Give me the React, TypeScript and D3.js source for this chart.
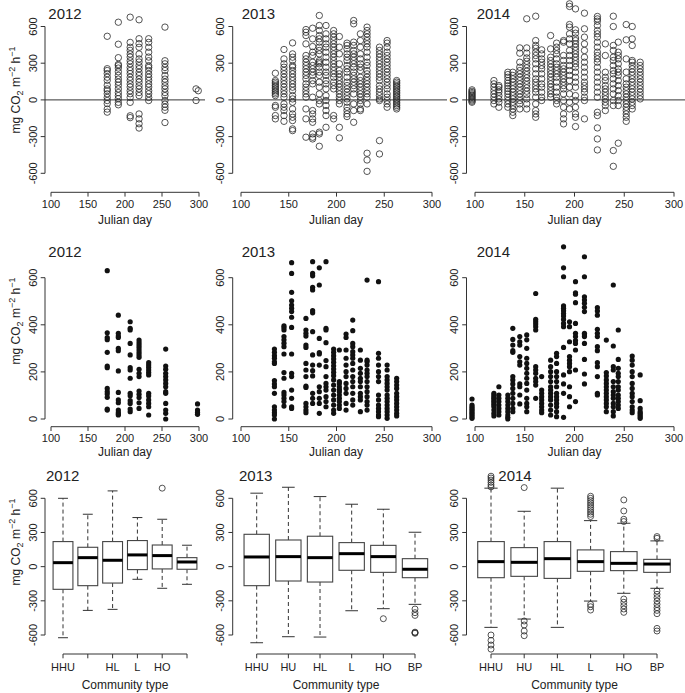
import React from "react";
import * as d3 from "d3";

// ---------- Data ----------
const years = ["2012", "2013", "2014"];
const dayTicks = [100, 150, 200, 250, 300];
const netTicks = [-600, -300, 0, 300, 600];
const respTicks = [0, 200, 400, 600];
const communities = ["HHU", "HU", "HL", "L", "HO", "BP"];
const communityLabels2012 = ["HHU", "", "HL", "L", "HO", ""];
const communityLabelsAll = ["HHU", "HU", "HL", "L", "HO", "BP"];

// Row 1: net CO2 exchange per sampling day
const netDays2012 = [176, 191, 207, 219, 232, 254, 296, 299];
const netVals2012 = [
  [520, 255, 240, 215, 185, 160, 120, 90, 75, 50, 20, -5, -30, -75, -100],
  [635, 455, 345, 290, 280, 260, 230, 200, 170, 145, 120, 90, 60, 35, 10, -20, -40],
  [676, 470, 430, 405, 375, 350, 320, 295, 265, 240, 215, 185, 160, 130, 105, 75, 50, 20, -20, -130, -145],
  [655, 500, 460, 430, 375, 335, 310, 280, 255, 225, 200, 170, 145, 115, 90, 60, 35, -115, -155, -195, -230],
  [500, 470, 430, 390, 350, 320, 280, 265, 240, 210, 185, 160, 130, 105, 75, 50, 20, -5],
  [595, 320, 295, 265, 240, 200, 170, 145, 115, 90, 60, 35, -5, -35, -60, -85, -185],
  [90, -5],
  [75],
];

const netDays2013 = [136, 145, 154, 168, 175, 182, 189, 197, 203, 211, 218, 225, 232, 245, 253, 263];
const netVals2013 = [
  [218, 158, 145, 131, 117, 104, 90, 76, 63, 49, 35, -46, -60, -128, -155],
  [412, 335, 295, 267, 240, 213, 185, 158, 131, 104, 76, 49, 22, -33, -60, -87, -128, -175],
  [466, 376, 349, 322, 281, 267, 240, 213, 185, 158, 131, 104, 76, 35, 8, -19, -74, -115, -142, -169, -237, -251],
  [575, 553, 526, 458, 363, 335, 308, 281, 254, 227, 200, 172, 131, 104, 76, 49, 22, -74, -155, -305],
  [586, 499, 436, 390, 363, 308, 281, 254, 227, 200, 158, 131, 22, -87, -115, -155, -183, -278, -305, -319],
  [690, 608, 567, 526, 499, 472, 431, 404, 376, 322, 308, 295, 267, 227, 200, 145, 104, 49, -5, -33, -264, -278, -379],
  [608, 540, 499, 458, 431, 390, 349, 308, 267, 227, 200, 158, 131, 90, 35, -5, -46, -87, -128, -224],
  [567, 540, 513, 485, 458, 431, 404, 376, 349, 322, 295, 267, 240, 213, 185, 145, 117, 90, -128, -155],
  [518, 431, 376, 295, 240, 213, 185, 158, 131, 104, 76, 49, 22, -5, -33, -224, -311],
  [464, 445, 417, 376, 349, 322, 281, 254, 227, 185, 145, 117, 90, 63, 35, 8, -19, -60, -87, -115, -136],
  [649, 622, 472, 445, 404, 376, 349, 322, 295, 267, 227, 200, 172, 145, 117, 90, 49, -33, -87, -183],
  [540, 485, 431, 376, 335, 295, 267, 240, 185, 158, 131, 104, 76, 49, 22, -5, -33, -74, -87],
  [595, 567, 540, 513, 485, 458, 431, 390, 349, 308, 281, 240, 213, 185, 158, 131, 104, 76, 49, 22, -33, -436, -491, -584],
  [431, 404, 376, 349, 322, 295, 267, 240, 213, 185, 158, 117, 90, 63, 35, 8, -5, -333, -442],
  [485, 464, 431, 390, 363, 335, 308, 281, 254, 227, 200, 172, 145, 117, 90, 49, 22, -5, -33, -60],
  [158, 145, 131, 117, 104, 90, 76, 63, 49, 35, 22, 8, -5, -19, -33, -46, -60, -74],
];

const netDays2014 = [97, 119, 124, 133, 138, 145, 152, 161, 167, 176, 182, 189, 195, 201, 210, 223, 231, 239, 244, 252, 258, 266];
const netVals2014 = [
  [82, 70, 60, 50, 40, 30, 20, 10, 0, -10, -19],
  [158, 131, 104, 76, 49, 22, -5, -33],
  [117, 104, 82, 63, 35, 8, -19, -60],
  [226, 207, 185, 158, 136, 115, 93, 71, 49, 22, -5, -33, -60],
  [226, 200, 172, 145, 117, 90, 63, 35, 8, -19, -46, -74, -101, -128],
  [425, 382, 308, 267, 240, 213, 185, 158, 131, 104, 76, 49, 22, -5, -33, -74],
  [663, 425, 382, 343, 316, 289, 262, 234, 207, 180, 153, 125, 98, 71, 44, 8, -33, -74],
  [684, 485, 445, 423, 390, 363, 335, 295, 254, 213, 172, 145, 117, 90, 63, 22, -33, -87, -115, -142],
  [409, 376, 335, 308, 281, 254, 213, 172, 131, 104, 63, 22, -5],
  [526, 417, 349, 322, 295, 267, 240, 213, 185, 158, 131, 104, 76, 49, 22],
  [464, 431, 404, 376, 335, 295, 267, 240, 213, 185, 145, 104, 63, 22, -5, -33],
  [485, 472, 363, 322, 281, 254, 227, 200, 172, 145, 117, 90, 49, -5, -60, -115, -155, -196],
  [785, 764, 616, 595, 540, 499, 458, 404, 363, 322, 281, 240, 200, 158, 104, 49, -19, -74],
  [744, 573, 545, 506, 485, 458, 431, 404, 376, 349, 322, 295, 267, 227, 185, 145, 104, 35, -5, -60, -115, -142, -218],
  [709, 581, 513, 458, 404, 349, 308, 267, 227, 185, 145, 117, 90, 63, 22, -5, -155],
  [682, 662, 643, 608, 567, 540, 513, 472, 431, 390, 363, 335, 308, 267, 227, 185, 145, 104, 63, 22, -101, -128, -229, -319, -409],
  [458, 363, 226, 185, 158, 117, 90, 63, 35, 8, -19, -46, -87],
  [684, 600, 445, 404, 349, 322, 281, 240, 213, 172, 131, 90, 49, -5, -46, -414, -543],
  [472, 390, 363, 335, 295, 254, 227, 200, 158, 117, 76, 35, -5, -46, -354],
  [616, 491, 335, 227, 172, 131, 104, 76, 49, 22, -5, -33, -60, -87, -115, -142, -175],
  [600, 499, 445, 322, 308, 281, 254, 227, 200, 172, 145, 117, 90, 63, 35, 8, -19, -46, -74],
  [308, 281, 254, 227, 200, 172, 145, 117, 90, 63, 35, 8],
];

// Row 2: respiration per sampling day
const respDays2012 = [176, 191, 207, 219, 232, 255, 298];
const respVals2012 = [
  [630, 366, 346, 337, 283, 225, 218, 130, 116, 106, 92, 42, 38],
  [441, 364, 352, 346, 300, 290, 204, 113, 81, 69, 38, 28, 21, 17],
  [413, 385, 378, 321, 272, 218, 208, 173, 109, 99, 78, 66, 42, 31],
  [335, 324, 314, 304, 293, 282, 272, 262, 211, 194, 180, 119, 105, 91, 69, 45],
  [239, 229, 219, 208, 197, 187, 109, 98, 81, 66, 52, 17],
  [297, 225, 211, 194, 180, 166, 151, 137, 116, 109, 66, 38, 24, 0],
  [64, 38, 28, 20],
];

const respDays2013 = [135, 145, 153, 168, 175, 182, 189, 197, 203, 210, 217, 225, 232, 244, 253, 263];
const respVals2013 = [
  [297, 283, 269, 258, 243, 236, 163, 149, 137, 109, 52, 38, 27, 17, 0],
  [396, 388, 378, 350, 336, 322, 307, 276, 197, 173, 113, 102, 88, 74, 55],
  [664, 618, 538, 502, 484, 470, 456, 432, 389, 276, 194, 180, 123, 88, 52, 45],
  [427, 378, 364, 352, 314, 304, 236, 208, 180, 140, 134, 66, 52, 38, 27],
  [668, 618, 608, 559, 548, 460, 451, 371, 272, 229, 205, 183, 109, 88, 66],
  [642, 569, 342, 282, 276, 229, 137, 116, 88, 66, 24],
  [668, 385, 378, 324, 248, 222, 180, 151, 137, 123, 95, 74, 52],
  [297, 283, 269, 255, 241, 226, 212, 198, 184, 166, 144, 123, 102, 81, 59, 38, 24],
  [293, 159, 151, 137, 126, 116, 102, 88, 74, 59, 45],
  [361, 346, 293, 258, 229, 201, 180, 151, 130, 109, 66, 38],
  [420, 375, 321, 307, 286, 272, 258, 236, 208, 180, 159, 137, 109, 81, 59],
  [293, 250, 215, 194, 173, 159, 137, 109, 95, 81, 31],
  [590, 250, 243, 229, 208, 194, 180, 159, 137, 116, 95, 74, 59, 38],
  [583, 279, 258, 229, 201, 180, 159, 102, 81, 59, 45, 31, 17, 10],
  [229, 208, 180, 166, 151, 137, 123, 102, 88, 74, 59, 45, 31, 17, 3],
  [173, 159, 144, 130, 109, 95, 81, 66, 52, 38, 24, 13],
];

const respDays2014 = [97, 119, 124, 133, 138, 145, 152, 161, 167, 176, 182, 189, 195, 201, 210, 223, 232, 239, 244, 258, 266];
const respVals2014 = [
  [85, 59, 52, 45, 38, 31, 24, 17, 10, 3],
  [109, 102, 95, 88, 81, 74, 66, 59, 52, 38, 24, 13],
  [137, 102, 88, 74, 59, 45, 31, 17],
  [102, 88, 74, 59, 45, 31, 17, 7, 0],
  [385, 338, 314, 290, 283, 180, 166, 149, 130, 109, 88, 66, 45, 31],
  [350, 328, 314, 265, 243, 229, 149, 137, 102, 64],
  [357, 336, 300, 258, 236, 215, 194, 173, 151, 123, 88, 66, 52, 31],
  [533, 423, 413, 403, 392, 378, 222, 208, 194, 173, 159, 144, 88],
  [180, 123, 109, 95, 81, 66, 52, 38, 27],
  [250, 222, 201, 180, 159, 137, 123, 109, 95, 81, 59, 38, 17],
  [279, 265, 236, 201, 180, 159, 137, 109, 95, 81, 66, 52, 31, 10],
  [731, 642, 604, 480, 470, 460, 448, 437, 423, 406, 392, 304, 187, 149, 109, 7],
  [413, 392, 328, 265, 250, 236, 222, 201, 137, 95, 52],
  [583, 536, 530, 494, 406, 364, 350, 333, 321, 293, 208, 74],
  [689, 604, 519, 505, 491, 474, 456, 364, 357, 350, 321, 253, 191, 149],
  [473, 459, 441, 381, 364, 350, 307, 290, 239, 222, 180, 109, 102],
  [335, 197, 183, 166, 151, 137, 123, 109, 95, 81, 66, 52, 31],
  [569, 310, 222, 208, 159, 137, 116, 102, 88, 66, 52, 31, 13],
  [378, 253, 215, 194, 180, 159, 137, 123, 102, 88, 74, 59, 45],
  [267, 250, 229, 201, 180, 151, 130, 109, 95, 74, 52, 38, 27],
  [187, 78, 45, 31, 24, 17, 10, 3],
];

// Row 3: boxplot statistics by community type
const boxLo2012 = [-624, -384, -375, -111, -190, -155];
const boxQ1_2012 = [-199, -167, -144, -26, -20, -23];
const boxMed2012 = [35, 79, 56, 103, 97, 41];
const boxQ3_2012 = [220, 170, 220, 229, 190, 79];
const boxHi2012 = [600, 460, 665, 431, 416, 188];
const boxOut2012 = [[], [], [], [], [689], []];

const boxLo2013 = [-668, -615, -618, -387, -369, -331];
const boxQ1_2013 = [-167, -126, -135, -32, -50, -97];
const boxMed2013 = [85, 88, 79, 114, 88, -23];
const boxQ3_2013 = [284, 234, 267, 211, 187, 70];
const boxHi2013 = [645, 697, 615, 548, 504, 302];
const boxOut2013 = [[], [], [], [], [-457], [-372, -404, -428, -575, -580, -585]];

const boxLo2014 = [-533, -460, -533, -302, -234, -190];
const boxQ1_2014 = [-97, -85, -103, -41, -35, -50];
const boxMed2014 = [44, 38, 70, 44, 29, 23];
const boxQ3_2014 = [220, 167, 220, 147, 132, 64];
const boxHi2014 = [689, 486, 689, 404, 381, 226];
const boxOut2014 = [
  [794, 778, 760, 740, 718, 700, -600, -647, -688, -724],
  [694, -477, -512, -565, -606],
  [],
  [618, 600, 580, 560, 540, 520, 500, 480, 460, 440, -331, -352, -381],
  [586, 489, 416, 396, -284, -313, -343, -372, -401],
  [264, 249, -214, -243, -272, -302, -331, -360, -384, -413, -542, -565],
];

// ---------- Layout ----------
const FONT = "'Liberation Sans', Arial, Helvetica, sans-serif";
const INK = "#222";
const AXIS = "#333";

const cols = [
  { axisX: 45, xr: [51, 199], zeroEnd: 205, labelX: 37, titleX: [48.3, 48.3, 46], box: [63, 187], center: 125 },
  { axisX: 232.7, xr: [241, 432], zeroEnd: 447, labelX: 224, titleX: [241.7, 241.7, 239], box: [256.7, 415], center: 336 },
  { axisX: 466.5, xr: [475, 674], zeroEnd: 685, labelX: 457.5, titleX: [476.7, 476.7, 498.3], box: [491, 657], center: 574.5 },
];

const rows = [
  { domain: [-600, 600], range: [173.3, 26.5], xAxisY: 192.3, tickBase: 208, titleBase: 19, xlabBase: 224, ylabY: 90, ticks: netTicks },
  { domain: [0, 600], range: [419, 277.7], xAxisY: 426.7, tickBase: 441.5, titleBase: 257, xlabBase: 455.5, ylabY: 321, ticks: respTicks },
  { domain: [-600, 600], range: [635, 498.3], xAxisY: 654, tickBase: 671, titleBase: 481, xlabBase: 689, ylabY: 542, ticks: netTicks },
];

function YAxis({ col, row }: any) {
  const y = d3.scaleLinear().domain(row.domain).range(row.range);
  const t = row.ticks;
  return (
    <g>
      <line x1={col.axisX} x2={col.axisX} y1={y(t[0])} y2={y(t[t.length - 1])} stroke={AXIS} strokeWidth={1} />
      {t.map((v: number) => (
        <g key={v}>
          <line x1={col.axisX - 4.3} x2={col.axisX} y1={y(v)} y2={y(v)} stroke={AXIS} strokeWidth={1} />
          <text
            transform={`translate(${col.labelX},${y(v)}) rotate(-90)`}
            textAnchor="middle"
            fontSize={11}
            fontFamily={FONT}
            fill={INK}
          >
            {v < 0 ? "-" + Math.abs(v) : String(v)}
          </text>
        </g>
      ))}
    </g>
  );
}

function YTitle({ row }: any) {
  return (
    <text
      transform={`translate(20,${row.ylabY}) rotate(-90)`}
      textAnchor="middle"
      fontSize={12}
      fontFamily={FONT}
      fill={INK}
    >
      mg  CO
      <tspan dy={3} fontSize={9}>2</tspan>
      <tspan dy={-3}> m</tspan>
      <tspan dy={-5} fontSize={9}>−2</tspan>
      <tspan dy={5}> h</tspan>
      <tspan dy={-5} fontSize={9}>−1</tspan>
    </text>
  );
}

function Title({ x, row, label }: any) {
  return (
    <text x={x} y={row.titleBase} fontSize={15} fontFamily={FONT} fill={INK}>
      {label}
    </text>
  );
}

function Scatter({ ci, ri, days, vals, filled, zero, label }: any) {
  const col = cols[ci];
  const row = rows[ri];
  const x = d3.scaleLinear().domain([100, 300]).range(col.xr);
  const y = d3.scaleLinear().domain(row.domain).range(row.range);
  const pts: [number, number][] = [];
  days.forEach((d: number, i: number) => vals[i].forEach((v: number) => pts.push([d, v])));
  return (
    <g>
      <Title x={col.titleX[ri]} row={row} label={label} />
      <YAxis col={col} row={row} />
      {ci === 0 && <YTitle row={row} />}
      {zero && <line x1={col.axisX} x2={col.zeroEnd} y1={y(0)} y2={y(0)} stroke={AXIS} strokeWidth={1} />}
      <line x1={x(100)} x2={x(300)} y1={row.xAxisY} y2={row.xAxisY} stroke={AXIS} strokeWidth={1} />
      {dayTicks.map((t) => (
        <g key={t}>
          <line x1={x(t)} x2={x(t)} y1={row.xAxisY} y2={row.xAxisY + 4.3} stroke={AXIS} strokeWidth={1} />
          <text x={x(t)} y={row.tickBase} textAnchor="middle" fontSize={11} fontFamily={FONT} fill={INK}>
            {t}
          </text>
        </g>
      ))}
      <text x={col.center} y={row.xlabBase} textAnchor="middle" fontSize={12} fontFamily={FONT} fill={INK}>
        Julian day
      </text>
      {pts.map(([d, v], i) =>
        filled ? (
          <circle key={i} cx={x(d)} cy={y(v)} r={2.6} fill="#111" />
        ) : (
          <circle key={i} cx={x(d)} cy={y(v)} r={3.2} fill="none" stroke="#2a2a2a" strokeWidth={0.8} />
        )
      )}
    </g>
  );
}

function Boxes({ ci, lo, q1, med, q3, hi, out, labels, label }: any) {
  const col = cols[ci];
  const row = rows[2];
  const x = d3.scalePoint<string>().domain(communities).range(col.box as [number, number]);
  const y = d3.scaleLinear().domain(row.domain).range(row.range);
  const bw = x.step() * 0.8;
  return (
    <g>
      <Title x={col.titleX[2]} row={row} label={label} />
      <YAxis col={col} row={row} />
      {ci === 0 && <YTitle row={row} />}
      <line x1={x(communities[0])} x2={x(communities[5])} y1={row.xAxisY} y2={row.xAxisY} stroke={AXIS} strokeWidth={1} />
      {communities.map((c, i) => (
        <g key={c}>
          <line x1={x(c)} x2={x(c)} y1={row.xAxisY} y2={row.xAxisY + 4.3} stroke={AXIS} strokeWidth={1} />
          {labels[i] && (
            <text x={x(c)} y={row.tickBase} textAnchor="middle" fontSize={11} fontFamily={FONT} fill={INK}>
              {labels[i]}
            </text>
          )}
        </g>
      ))}
      <text x={col.center} y={row.xlabBase} textAnchor="middle" fontSize={12} fontFamily={FONT} fill={INK}>
        Community type
      </text>
      {communities.map((c, i) => {
        const cx = x(c) as number;
        return (
          <g key={c}>
            <line x1={cx} x2={cx} y1={y(q3[i])} y2={y(hi[i])} stroke={AXIS} strokeWidth={1} strokeDasharray="4,3" />
            <line x1={cx} x2={cx} y1={y(q1[i])} y2={y(lo[i])} stroke={AXIS} strokeWidth={1} strokeDasharray="4,3" />
            <line x1={cx - bw / 4} x2={cx + bw / 4} y1={y(hi[i])} y2={y(hi[i])} stroke={AXIS} strokeWidth={1} />
            <line x1={cx - bw / 4} x2={cx + bw / 4} y1={y(lo[i])} y2={y(lo[i])} stroke={AXIS} strokeWidth={1} />
            <rect x={cx - bw / 2} y={y(q3[i])} width={bw} height={y(q1[i]) - y(q3[i])} fill="white" stroke="#444" strokeWidth={1.1} />
            <line x1={cx - bw / 2} x2={cx + bw / 2} y1={y(med[i])} y2={y(med[i])} stroke="#000" strokeWidth={3} />
            {out[i].map((v: number, k: number) => (
              <circle key={k} cx={cx} cy={y(v)} r={3} fill="none" stroke="#2a2a2a" strokeWidth={0.8} />
            ))}
          </g>
        );
      })}
    </g>
  );
}

export default function App() {
  return (
    <div style={{ position: "absolute", left: 0, top: 0 }}>
      <svg width={685} height={693} style={{ display: "block", background: "white" }}>
        <Scatter ci={0} ri={0} days={netDays2012} vals={netVals2012} zero label={years[0]} />
        <Scatter ci={1} ri={0} days={netDays2013} vals={netVals2013} zero label={years[1]} />
        <Scatter ci={2} ri={0} days={netDays2014} vals={netVals2014} zero label={years[2]} />
        <Scatter ci={0} ri={1} days={respDays2012} vals={respVals2012} filled label={years[0]} />
        <Scatter ci={1} ri={1} days={respDays2013} vals={respVals2013} filled label={years[1]} />
        <Scatter ci={2} ri={1} days={respDays2014} vals={respVals2014} filled label={years[2]} />
        <Boxes ci={0} lo={boxLo2012} q1={boxQ1_2012} med={boxMed2012} q3={boxQ3_2012} hi={boxHi2012} out={boxOut2012} labels={communityLabels2012} label={years[0]} />
        <Boxes ci={1} lo={boxLo2013} q1={boxQ1_2013} med={boxMed2013} q3={boxQ3_2013} hi={boxHi2013} out={boxOut2013} labels={communityLabelsAll} label={years[1]} />
        <Boxes ci={2} lo={boxLo2014} q1={boxQ1_2014} med={boxMed2014} q3={boxQ3_2014} hi={boxHi2014} out={boxOut2014} labels={communityLabelsAll} label={years[2]} />
      </svg>
    </div>
  );
}
